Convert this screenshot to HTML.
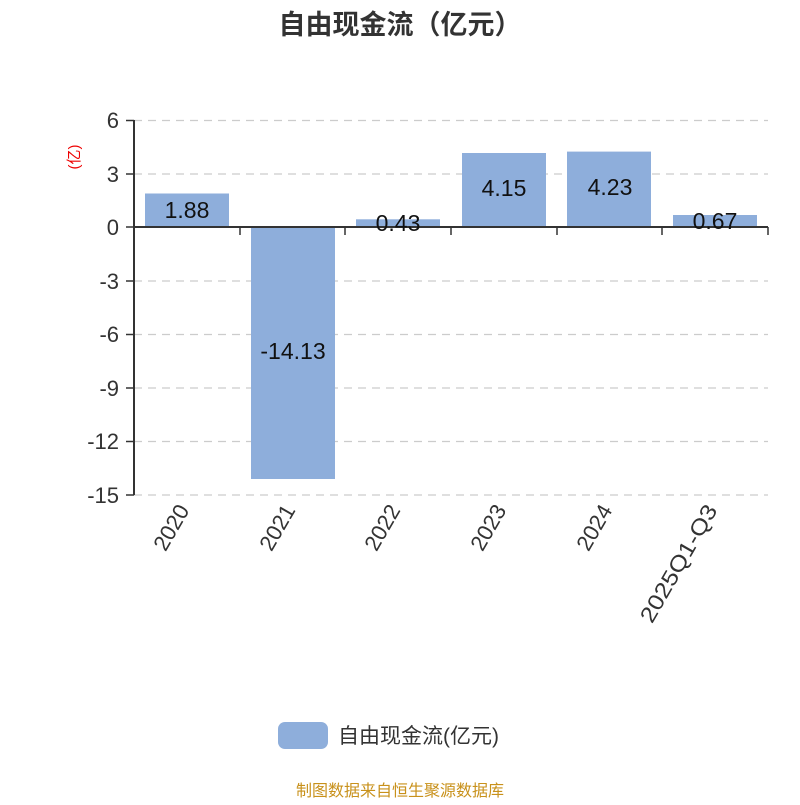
<!DOCTYPE html>
<html><head><meta charset="utf-8"><style>body{margin:0;background:#fff}</style></head><body>
<svg width="800" height="800" xmlns="http://www.w3.org/2000/svg" font-family="Liberation Sans, Noto Sans CJK SC, sans-serif">
<text x="400" y="34" text-anchor="middle" font-size="27" font-weight="bold" fill="#333">自由现金流（亿元）</text>
<text transform="translate(79,157) rotate(-90)" text-anchor="middle" font-size="15" fill="#e00">(亿)</text>
<g stroke="#ccc" stroke-dasharray="8,6" stroke-width="1.3">
<line x1="134" y1="120.5" x2="768" y2="120.5"/><line x1="134" y1="174" x2="768" y2="174"/>
<line x1="134" y1="281" x2="768" y2="281"/><line x1="134" y1="334.5" x2="768" y2="334.5"/>
<line x1="134" y1="388" x2="768" y2="388"/><line x1="134" y1="441.5" x2="768" y2="441.5"/>
<line x1="134" y1="495" x2="768" y2="495"/>
</g>
<g fill="#8eaedb">
<rect x="145" y="193.5" width="84" height="33.5"/>
<rect x="251" y="227" width="84" height="252"/>
<rect x="356" y="219.3" width="84" height="7.7"/>
<rect x="462" y="153" width="84" height="74"/>
<rect x="567" y="151.6" width="84" height="75.4"/>
<rect x="673" y="215" width="84" height="12"/>
</g>
<g stroke="#333" stroke-width="2">
<line x1="134" y1="120" x2="134" y2="495"/>
<line x1="134" y1="227" x2="768" y2="227"/>
</g>
<g stroke="#333" stroke-width="1.5">
<line x1="126" y1="120.5" x2="134" y2="120.5"/><line x1="126" y1="174" x2="134" y2="174"/><line x1="126" y1="227" x2="134" y2="227"/>
<line x1="126" y1="281" x2="134" y2="281"/><line x1="126" y1="334.5" x2="134" y2="334.5"/><line x1="126" y1="388" x2="134" y2="388"/>
<line x1="126" y1="441.5" x2="134" y2="441.5"/><line x1="126" y1="495" x2="134" y2="495"/>
<line x1="240" y1="227" x2="240" y2="235"/><line x1="345" y1="227" x2="345" y2="235"/><line x1="451" y1="227" x2="451" y2="235"/>
<line x1="557" y1="227" x2="557" y2="235"/><line x1="662" y1="227" x2="662" y2="235"/><line x1="768" y1="227" x2="768" y2="235"/>
</g>
<g font-size="22" fill="#333" text-anchor="end">
<text x="119" y="128">6</text><text x="119" y="182">3</text><text x="119" y="235">0</text>
<text x="119" y="289">-3</text><text x="119" y="342">-6</text><text x="119" y="396">-9</text>
<text x="119" y="449">-12</text><text x="119" y="503">-15</text>
</g>
<g font-size="23" fill="#111" text-anchor="middle">
<text x="187" y="218">1.88</text><text x="293" y="359">-14.13</text><text x="398" y="231">0.43</text>
<text x="504" y="196">4.15</text><text x="610" y="195">4.23</text><text x="715" y="229">0.67</text>
</g>
<g font-size="22" fill="#333" text-anchor="end">
<text transform="translate(190,510) rotate(-60)">2020</text>
<text transform="translate(296,510) rotate(-60)">2021</text>
<text transform="translate(401,510) rotate(-60)">2022</text>
<text transform="translate(507,510) rotate(-60)">2023</text>
<text transform="translate(613,510) rotate(-60)">2024</text>
<text transform="translate(718,510) rotate(-60)" textLength="132" lengthAdjust="spacingAndGlyphs">2025Q1-Q3</text>
</g>
<rect x="278" y="722" width="50" height="27" rx="7" fill="#8eaedb"/>
<text x="338" y="743" font-size="21" fill="#333">自由现金流(亿元)</text>
<text x="400" y="796" text-anchor="middle" font-size="16" fill="#c8911b">制图数据来自恒生聚源数据库</text>
</svg>
</body></html>
